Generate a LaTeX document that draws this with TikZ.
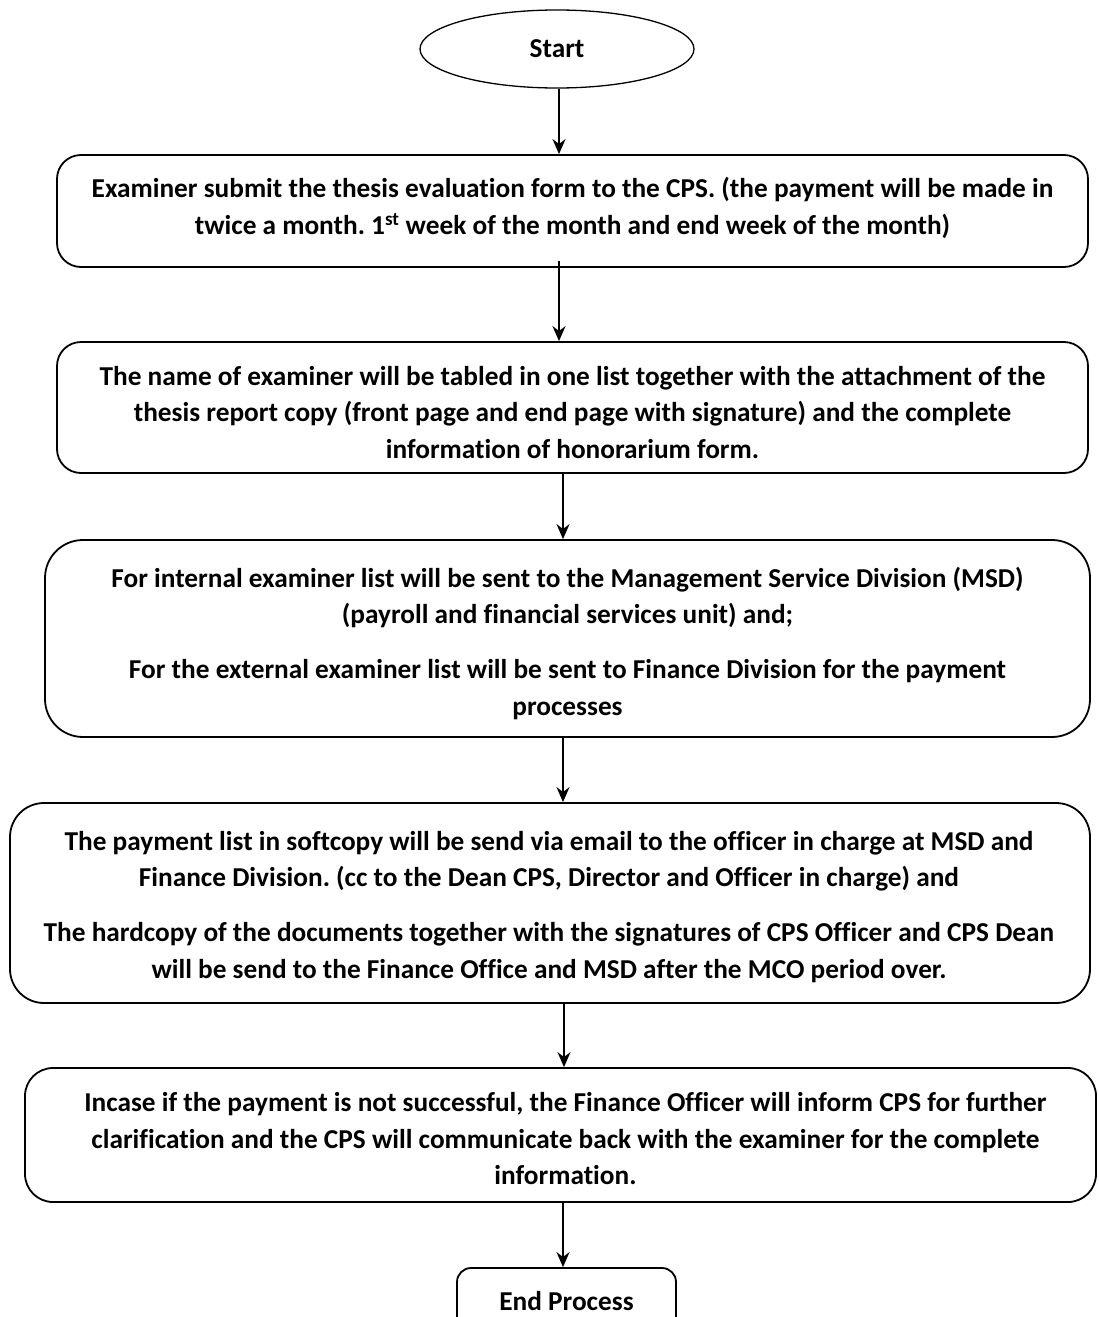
\documentclass[tikz,border=0pt]{standalone}
\usepackage{fontspec}
\setmainfont{Carlito}[Ligatures=NoCommon]
\frenchspacing
\usetikzlibrary{shapes.geometric,arrows.meta}
\begin{document}
\begin{tikzpicture}[x=1pt,y=-1pt,
  boxst/.style={draw=black,line width=1.8pt,rounded corners=24pt,inner sep=0pt},
  txt/.style={align=center,inner sep=0pt,font=\fontsize{27.3pt}{36.5pt}\selectfont\bfseries},
  arr/.style={line width=1.9pt,-{Stealth[length=15pt,width=13pt]}}]
\useasboundingbox (0,0) rectangle (1099,1317);
\fill[white] (0,0) rectangle (1099,1317);
% start
\node[ellipse,draw,line width=1.3pt,minimum width=274pt,minimum height=78pt,inner sep=0pt,font=\fontsize{27.3pt}{30pt}\selectfont\bfseries] (start) at (557,49) {Start};
% boxes
\node[boxst,minimum width=1031pt,minimum height=112pt] (b1) at (572.5,211) {};
\node[txt] (t1) at (572.5,208) {Examiner submit the thesis evaluation form to the CPS. (the payment will be made in\\twice a month. 1\textsuperscript{st} week of the month and end week of the month)};
\node[boxst,minimum width=1031pt,minimum height=131pt] (b2) at (572.5,407.5) {};
\node[txt] (t2) at (572.5,412.5) {The name of examiner will be tabled in one list together with the attachment of the\\thesis report copy (front page and end page with signature) and the complete\\information of honorarium form.};
\node[boxst,rounded corners=38pt,minimum width=1045pt,minimum height=197pt] (b3) at (567.5,638.5) {};
\node[txt] (t3) at (567.5,643.5) {For internal examiner list will be sent to the Management Service Division (MSD)\\(payroll and financial services unit) and;\\[18.5pt]For the external examiner list will be sent to Finance Division for the payment\\processes};
\node[boxst,rounded corners=34pt,minimum width=1080pt,minimum height=200pt] (b4) at (550,903) {};
\node[txt] (t4) at (549,907) {The payment list in softcopy will be send via email to the officer in charge at MSD and\\Finance Division. (cc to the Dean CPS, Director and Officer in charge) and\\[18.5pt]The hardcopy of the documents together with the signatures of CPS Officer and CPS Dean\\will be send to the Finance Office and MSD after the MCO period over.};
\node[boxst,rounded corners=28pt,minimum width=1071pt,minimum height=134pt] (b5) at (560.5,1135) {};
\node[txt] (t5) at (565.5,1139) {Incase if the payment is not successful, the Finance Officer will inform CPS for further\\clarification and the CPS will communicate back with the examiner for the complete\\information.};
\node[boxst,rounded corners=14pt,minimum width=219pt,minimum height=76pt] (end) at (566.5,1306) {};
\node[txt] (te) at (566.5,1301) {End Process};
% connectors
\coordinate (xa) at (559,0);
\coordinate (xb) at (563,0);
\coordinate (xc) at (564,0);
\draw[arr] (xa |- start.south) -- (xa |- b1.north);
\draw[arr] ([yshift=7pt]xa |- b1.south) -- (xa |- b2.north);
\draw[arr] (xb |- b2.south) -- (xb |- b3.north);
\draw[arr] (xb |- b3.south) -- (xb |- b4.north);
\draw[arr] (xc |- b4.south) -- (xc |- b5.north);
\draw[arr] (xb |- b5.south) -- (xb |- end.north);
\end{tikzpicture}
\end{document}
